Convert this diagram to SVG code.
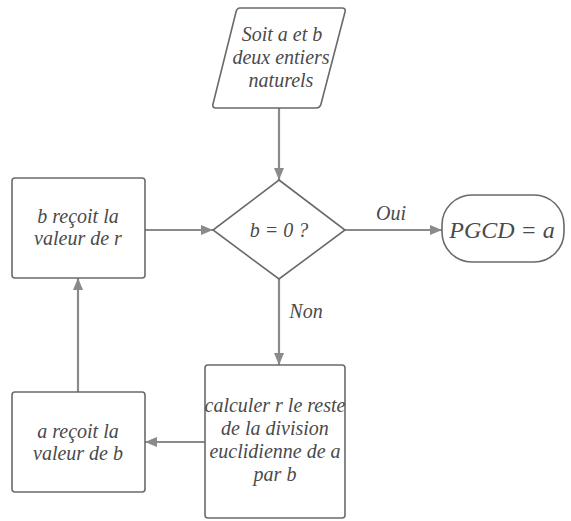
<svg xmlns="http://www.w3.org/2000/svg" width="571" height="521" viewBox="0 0 571 521">
<defs>
<marker id="ah" viewBox="0 0 12 10" refX="12" refY="5" markerWidth="12" markerHeight="10" markerUnits="userSpaceOnUse" orient="auto">
<path d="M0,0 L12,5 L0,10 Z" fill="#8a8a8a"/>
</marker>
</defs>
<rect width="571" height="521" fill="#fff"/>
<g id="connectors" stroke="#8a8a8a" stroke-width="2.2" fill="none">
<line x1="279" y1="108" x2="279" y2="180" marker-end="url(#ah)"/>
<line x1="145" y1="230" x2="213" y2="230" marker-end="url(#ah)"/>
<line x1="345" y1="230" x2="442" y2="230" marker-end="url(#ah)"/>
<line x1="279" y1="279" x2="279" y2="365" marker-end="url(#ah)"/>
<line x1="205" y1="442" x2="145" y2="442" marker-end="url(#ah)"/>
<line x1="78" y1="392" x2="78" y2="278" marker-end="url(#ah)"/>
</g>
<g id="labels" font-family="Liberation Serif, Times New Roman, serif" font-style="italic" font-size="20" fill="#4a4a4a" text-anchor="middle">
<text x="391" y="220" font-family="Liberation Serif, Times New Roman, serif">Oui</text>
<text x="306" y="318" font-family="Liberation Serif, Times New Roman, serif">Non</text>
</g>
<g id="start">
<path fill="#fff" stroke="#6a6a6a" stroke-width="1.6" d="M240,8 L342,8 Q346,8 345,12 L321,104 Q320,108 316,108 L216,108 Q212,108 213,104 L236,12 Q237,8 240,8 Z"/>
<text x="282" y="41" font-family="Liberation Serif, Times New Roman, serif" font-style="italic" font-size="20" fill="#4a4a4a" text-anchor="middle">Soit a et b</text>
<text x="281" y="64" font-family="Liberation Serif, Times New Roman, serif" font-style="italic" font-size="20" fill="#4a4a4a" text-anchor="middle">deux entiers</text>
<text x="281" y="87" font-family="Liberation Serif, Times New Roman, serif" font-style="italic" font-size="20" fill="#4a4a4a" text-anchor="middle">naturels</text>
</g>
<g id="decision">
<polygon fill="#fff" stroke="#6a6a6a" stroke-width="1.6" points="279,180 345,230 279,279 213,230"/>
<text x="279" y="237" font-family="Liberation Serif, Times New Roman, serif" font-style="italic" font-size="20" fill="#4a4a4a" text-anchor="middle">b = 0 ?</text>
</g>
<g id="end">
<rect fill="#fff" stroke="#6a6a6a" stroke-width="1.6" x="442" y="195" width="122" height="67" rx="30" ry="30"/>
<text x="502" y="238" font-family="Liberation Serif, Times New Roman, serif" font-style="italic" font-size="24" fill="#4a4a4a" text-anchor="middle">PGCD = a</text>
</g>
<g id="assign-b">
<rect fill="#fff" stroke="#6a6a6a" stroke-width="1.6" x="12" y="178" width="133" height="100" rx="3"/>
<text x="78" y="223" font-family="Liberation Serif, Times New Roman, serif" font-style="italic" font-size="20" fill="#4a4a4a" text-anchor="middle">b re&#231;oit la</text>
<text x="78" y="245" font-family="Liberation Serif, Times New Roman, serif" font-style="italic" font-size="20" fill="#4a4a4a" text-anchor="middle">valeur de r</text>
</g>
<g id="compute">
<rect fill="#fff" stroke="#6a6a6a" stroke-width="1.6" x="205" y="365" width="140" height="153" rx="3"/>
<text x="275" y="412" font-family="Liberation Serif, Times New Roman, serif" font-style="italic" font-size="20" fill="#4a4a4a" text-anchor="middle">calculer r le reste</text>
<text x="275" y="435" font-family="Liberation Serif, Times New Roman, serif" font-style="italic" font-size="20" fill="#4a4a4a" text-anchor="middle">de la division</text>
<text x="275" y="458" font-family="Liberation Serif, Times New Roman, serif" font-style="italic" font-size="20" fill="#4a4a4a" text-anchor="middle">euclidienne de a</text>
<text x="275" y="481" font-family="Liberation Serif, Times New Roman, serif" font-style="italic" font-size="20" fill="#4a4a4a" text-anchor="middle">par b</text>
</g>
<g id="assign-a">
<rect fill="#fff" stroke="#6a6a6a" stroke-width="1.6" x="12" y="392" width="133" height="100" rx="3"/>
<text x="78" y="438" font-family="Liberation Serif, Times New Roman, serif" font-style="italic" font-size="20" fill="#4a4a4a" text-anchor="middle">a re&#231;oit la</text>
<text x="78" y="460" font-family="Liberation Serif, Times New Roman, serif" font-style="italic" font-size="20" fill="#4a4a4a" text-anchor="middle">valeur de b</text>
</g>
</svg>
